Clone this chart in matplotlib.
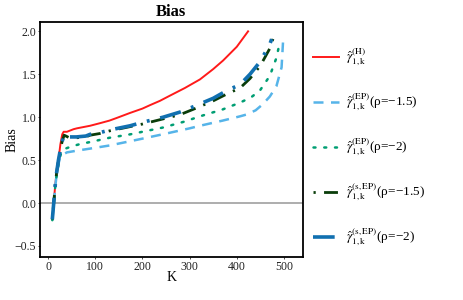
import matplotlib.pyplot as plt
from matplotlib.lines import Line2D

plt.rcParams['font.family'] = ['Liberation Serif', 'DejaVu Serif']
plt.rcParams['mathtext.fontset'] = 'stix'

# Hill estimator
k_h = [9, 12, 15, 18, 22, 26, 30, 33, 40, 54, 61, 89, 110, 130, 145, 174, 200,
       216, 237, 258, 290, 322, 350, 371, 400, 424]
bias_h = [-0.19, 0.0, 0.2, 0.35, 0.5, 0.68, 0.80, 0.83, 0.83, 0.86, 0.87, 0.90,
          0.93, 0.96, 0.99, 1.05, 1.10, 1.14, 1.19, 1.25, 1.34, 1.44, 1.56,
          1.66, 1.82, 2.0]

# EP, rho = -1.5
k_ep15 = [9, 12, 15, 18, 22, 25, 30, 40, 61, 96, 130, 174, 200, 251, 300, 322,
          370, 407, 420, 440, 455, 470, 484, 495, 498]
bias_ep15 = [-0.2, -0.02, 0.18, 0.32, 0.45, 0.53, 0.56, 0.59, 0.61, 0.64, 0.67,
             0.72, 0.75, 0.81, 0.87, 0.90, 0.96, 1.01, 1.03, 1.08, 1.15, 1.24,
             1.36, 1.58, 1.87]

# EP, rho = -2
k_ep2 = [9, 12, 15, 18, 22, 26, 29, 35, 50, 70, 89, 130, 174, 200, 244, 290,
         322, 370, 407, 430, 449, 470, 484, 492]
bias_ep2 = [-0.2, -0.02, 0.18, 0.32, 0.45, 0.55, 0.60, 0.63, 0.66, 0.69, 0.71,
            0.76, 0.80, 0.83, 0.88, 0.95, 1.01, 1.09, 1.17, 1.23, 1.31, 1.48,
            1.69, 1.89]

# s,EP, rho = -1.5
k_sep15 = [9, 12, 15, 18, 22, 26, 30, 34, 38, 45, 60, 80, 89, 110, 130, 174,
           200, 244, 280, 307, 350, 379, 407, 428, 450, 470, 479]
bias_sep15 = [-0.19, 0.0, 0.2, 0.35, 0.5, 0.62, 0.72, 0.79, 0.78, 0.76, 0.76,
              0.77, 0.79, 0.81, 0.84, 0.89, 0.92, 0.98, 1.03, 1.09, 1.19, 1.27,
              1.34, 1.45, 1.60, 1.80, 1.95]

# s,EP, rho = -2
k_sep2 = [9, 12, 15, 18, 22, 26, 30, 34, 38, 45, 60, 80, 89, 110, 130, 174,
          200, 244, 280, 307, 350, 379, 407, 428, 450, 470, 474]
bias_sep2 = [-0.19, 0.0, 0.2, 0.35, 0.5, 0.62, 0.72, 0.80, 0.79, 0.77, 0.77,
             0.78, 0.80, 0.82, 0.85, 0.90, 0.94, 1.00, 1.06, 1.12, 1.22, 1.31,
             1.38, 1.50, 1.65, 1.85, 1.91]

styles = [
    dict(color='#ff1a1a', linewidth=1.4),
    dict(color='#56b4e9', linewidth=1.8, linestyle=(0, (4, 3))),
    dict(color='#009e73', linewidth=1.8, linestyle=(0, (0.8, 3.5)),
         dash_capstyle='round'),
    dict(color='#0a3d0a', linewidth=2.0, linestyle=(0, (0.8, 3, 5, 3))),
    dict(color='#1170b0', linewidth=2.6, linestyle=(0, (6, 3, 0.8, 3))),
]

fig = plt.figure(figsize=(4.63, 3.0), dpi=100)
ax = fig.add_axes([0.086, 0.143, 0.568, 0.784])

ax.axhline(0, color='#a0a0a0', linewidth=1.2, zorder=1)

ax.plot(k_h, bias_h, **styles[0])
ax.plot(k_ep15, bias_ep15, **styles[1])
ax.plot(k_ep2, bias_ep2, **styles[2])
ax.plot(k_sep15, bias_sep15, **styles[3])
ax.plot(k_sep2, bias_sep2, **styles[4])

ax.set_xlim(-17.5, 540)
ax.set_ylim(-0.63, 2.11)
ax.set_xticks([0, 100, 200, 300, 400, 500])
ax.set_yticks([-0.5, 0.0, 0.5, 1.0, 1.5, 2.0])
ax.set_yticklabels(['\u22120.5', '0.0', '0.5', '1.0', '1.5', '2.0'])
ax.tick_params(labelsize=8.5, length=1.5, width=0.6, colors='#333333',
               labelcolor='#222222', pad=1)
for s in ax.spines.values():
    s.set_linewidth(1.3)
    s.set_color('black')

ax.set_title('Bias', fontsize=12, fontweight='bold', pad=4)
ax.set_xlabel('K', fontsize=10, labelpad=-1)
ax.set_ylabel('Bias', fontsize=10)
ax.yaxis.set_label_coords(-0.082, 0.5)

handles = [Line2D([], [], **st) for st in styles]
labels = [
    r'$\hat{\gamma}^{(\mathrm{H})}_{1,\mathrm{k}}$',
    r'$\hat{\gamma}^{(\mathrm{EP})}_{1,\mathrm{k}}$' + '(ρ=\u22121.5)',
    r'$\hat{\gamma}^{(\mathrm{EP})}_{1,\mathrm{k}}$' + '(ρ=\u22122)',
    r'$\hat{\gamma}^{(\mathrm{s,EP})}_{1,\mathrm{k}}$' + '(ρ=\u22121.5)',
    r'$\hat{\gamma}^{(\mathrm{s,EP})}_{1,\mathrm{k}}$' + '(ρ=\u22122)',
]
fig.legend(handles, labels, loc='upper left', bbox_to_anchor=(0.664, 0.862),
           frameon=False, fontsize=9.5, handlelength=2.0, handletextpad=0.5,
           labelspacing=1.8, borderaxespad=0)

fig.savefig('out.png', dpi=100)
